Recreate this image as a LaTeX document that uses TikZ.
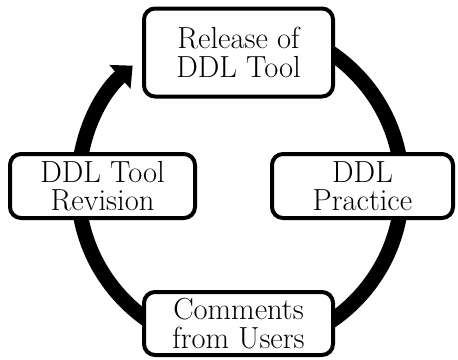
\documentclass[tikz,border=0pt]{standalone}
\usepackage{fontspec}
\usetikzlibrary{arrows.meta}
\tikzset{
  stagebox/.style={draw=black, line width=4pt, rounded corners=11pt, fill=white,
    inner sep=0pt, align=center, font=\rmfamily\fontsize{30.5pt}{28.5pt}\selectfont},
  cycleline/.style={line width=15pt, draw=black}
}
\begin{document}
\begin{tikzpicture}
\useasboundingbox (0pt,0pt) rectangle (458pt,-359pt);
\coordinate (c) at (240pt,-187pt);
\coordinate (s) at ([shift={(90:162pt)}]c);
\draw[cycleline, -{Triangle[width=31pt,length=17pt]}] (s) arc[start angle=90, end angle=-228.5, radius=162pt];
\node[stagebox, minimum width=189pt, minimum height=88pt] (rel) at (238.5pt,-52.5pt) {Release of\\DDL Tool};
\node[stagebox, minimum width=181pt, minimum height=64pt] (prac) at (362.5pt,-186pt) {DDL\\Practice};
\node[stagebox, minimum width=189pt, minimum height=63pt] (com) at (238.5pt,-323.5pt) {Comments\\from Users};
\node[stagebox, minimum width=185pt, minimum height=64pt] (rev) at (102.5pt,-186pt) {DDL Tool\\Revision};
\end{tikzpicture}
\end{document}
